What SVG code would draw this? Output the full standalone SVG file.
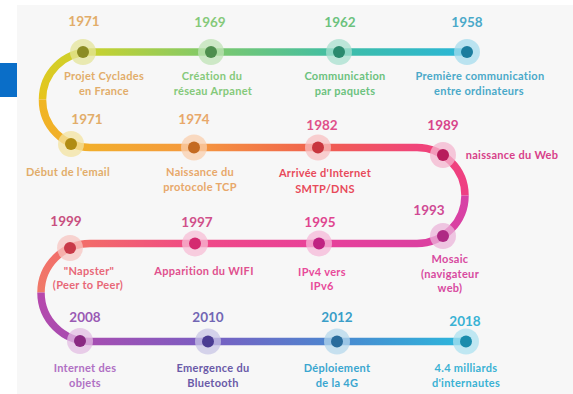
<svg xmlns="http://www.w3.org/2000/svg" width="573" height="394" viewBox="0 0 573 394">
<defs>
<linearGradient id="g1" gradientUnits="userSpaceOnUse" x1="467" y1="0" x2="90" y2="0">
<stop offset="0" stop-color="#2ab6d8"/><stop offset="0.34" stop-color="#3fbea6"/><stop offset="0.68" stop-color="#7ec96c"/><stop offset="1" stop-color="#c9d22e"/>
</linearGradient>
<linearGradient id="a1u" gradientUnits="userSpaceOnUse" x1="0" y1="52" x2="0" y2="99.5">
<stop offset="0" stop-color="#cfd02a"/><stop offset="1" stop-color="#e8c41c"/>
</linearGradient>
<linearGradient id="a1l" gradientUnits="userSpaceOnUse" x1="0" y1="99.5" x2="0" y2="147.5">
<stop offset="0" stop-color="#f0b622"/><stop offset="1" stop-color="#f2ae2c"/>
</linearGradient>
<linearGradient id="g2" gradientUnits="userSpaceOnUse" x1="90" y1="0" x2="417" y2="0">
<stop offset="0" stop-color="#f2ae2c"/><stop offset="0.32" stop-color="#f5983e"/><stop offset="0.7" stop-color="#f0604e"/><stop offset="1" stop-color="#f0447a"/>
</linearGradient>
<linearGradient id="a2u" gradientUnits="userSpaceOnUse" x1="0" y1="147.5" x2="0" y2="195.5">
<stop offset="0" stop-color="#f0447a"/><stop offset="1" stop-color="#ee3e84"/>
</linearGradient>
<linearGradient id="a2l" gradientUnits="userSpaceOnUse" x1="0" y1="195.5" x2="0" y2="243.5">
<stop offset="0" stop-color="#d642a6"/><stop offset="1" stop-color="#dc40a0"/>
</linearGradient>
<linearGradient id="g3" gradientUnits="userSpaceOnUse" x1="417" y1="0" x2="90" y2="0">
<stop offset="0" stop-color="#dc40a0"/><stop offset="0.3" stop-color="#e8409a"/><stop offset="0.68" stop-color="#f04a86"/><stop offset="1" stop-color="#f26a6a"/>
</linearGradient>
<linearGradient id="a3u" gradientUnits="userSpaceOnUse" x1="0" y1="243.5" x2="0" y2="292.5">
<stop offset="0" stop-color="#f26c6a"/><stop offset="1" stop-color="#f07a68"/>
</linearGradient>
<linearGradient id="a3l" gradientUnits="userSpaceOnUse" x1="0" y1="292.5" x2="0" y2="341.5">
<stop offset="0" stop-color="#b848ac"/><stop offset="1" stop-color="#a84cb0"/>
</linearGradient>
<linearGradient id="g4" gradientUnits="userSpaceOnUse" x1="90" y1="0" x2="466" y2="0">
<stop offset="0" stop-color="#a64eb2"/><stop offset="0.31" stop-color="#7a5ec2"/><stop offset="0.66" stop-color="#4a88d0"/><stop offset="1" stop-color="#2cb8dc"/>
</linearGradient>
<style>
.trk{fill:none;stroke-width:7.5}
.yr{font-family:Lato,"Open Sans",sans-serif;font-weight:700;font-size:13.5px;text-anchor:middle}
.lb{font-family:Lato,"Open Sans",sans-serif;font-weight:700;font-size:11px;letter-spacing:0.3px;text-anchor:middle}
.halo{opacity:0.75}
</style>
</defs>
<rect x="0" y="0" width="573" height="394" fill="#ffffff"/>
<rect x="17" y="5" width="556" height="389" fill="#f7f7f7"/>
<rect x="0" y="63" width="17" height="34" fill="#0a6ec8"/>

<g id="connectors">
<path class="trk" d="M467,52 H90" stroke="url(#g1)"/>
<path class="trk" d="M90,52 A47.5,47.5 0 0 0 42.5,99.5" stroke="url(#a1u)"/>
<path class="trk" d="M42.5,99.5 A47.5,47.5 0 0 0 90,147.5" stroke="url(#a1l)"/>
<path class="trk" d="M90,147.5 H417" stroke="url(#g2)"/>
<path class="trk" d="M417,147.5 A48,48 0 0 1 465,195.5" stroke="url(#a2u)"/>
<path class="trk" d="M465,195.5 A48,48 0 0 1 417,243.5" stroke="url(#a2l)"/>
<path class="trk" d="M417,243.5 H90" stroke="url(#g3)"/>
<path class="trk" d="M90,243.5 A49,49 0 0 0 41,292.5" stroke="url(#a3u)"/>
<path class="trk" d="M41,292.5 A49,49 0 0 0 90,341.5" stroke="url(#a3l)"/>
<path class="trk" d="M90,341.5 H466" stroke="url(#g4)"/>
</g>

<g id="n1971a">
<circle class="halo" cx="83" cy="52" r="13" fill="#e4e49a"/><circle cx="83" cy="52" r="6" fill="#8c8c24"/>
<text class="yr" x="84" y="26" fill="#e2ad6a">1971</text>
<text class="lb" x="104" y="80" fill="#e2ad6a">Projet Cyclades</text>
<text class="lb" x="104" y="95" fill="#e2ad6a">en France</text>
</g>
<g id="n1969">
<circle class="halo" cx="211" cy="52" r="13" fill="#bfe3b5"/><circle cx="211" cy="52" r="6" fill="#4e8e4e"/>
<text class="yr" x="210" y="27" fill="#85c97a">1969</text>
<text class="lb" x="212" y="80" fill="#85c97a">Création du</text>
<text class="lb" x="213" y="95" fill="#85c97a">réseau Arpanet</text>
</g>
<g id="n1962">
<circle class="halo" cx="339" cy="52" r="13" fill="#a8e0cf"/><circle cx="339" cy="52" r="6" fill="#2b8a6e"/>
<text class="yr" x="340" y="27" fill="#6cc27e">1962</text>
<text class="lb" x="345" y="80" fill="#6cc27e">Communication</text>
<text class="lb" x="345" y="95" fill="#6cc27e">par paquets</text>
</g>
<g id="n1958">
<circle class="halo" cx="467" cy="52" r="13" fill="#a5dcee"/><circle cx="467" cy="52" r="6" fill="#1b7d9e"/>
<text class="yr" x="467" y="27" fill="#4aa9c9">1958</text>
<text class="lb" x="480" y="80" fill="#4aa9c9">Première communication</text>
<text class="lb" x="479" y="95" fill="#4aa9c9">entre ordinateurs</text>
</g>

<g id="n1971b">
<circle class="halo" cx="71" cy="144" r="13" fill="#f3e3a0"/><circle cx="71" cy="144" r="6" fill="#b08c14"/>
<text class="yr" x="87" y="124" fill="#e2ad6a">1971</text>
<text class="lb" x="68" y="176" fill="#e2ad6a">Début de l'email</text>
</g>
<g id="n1974">
<circle class="halo" cx="194" cy="147.5" r="13" fill="#f9cfae"/><circle cx="194" cy="147.5" r="6" fill="#c46a22"/>
<text class="yr" x="194" y="124" fill="#e8a86a">1974</text>
<text class="lb" x="200" y="176" fill="#e8a86a">Naissance du</text>
<text class="lb" x="200" y="191" fill="#e8a86a">protocole TCP</text>
</g>
<g id="n1982">
<circle class="halo" cx="318" cy="147.5" r="13" fill="#f8c0c2"/><circle cx="318" cy="147.5" r="6" fill="#c8363e"/>
<text class="yr" x="322" y="130" fill="#e0508a">1982</text>
<text class="lb" x="325" y="177" fill="#e84a5a">Arrivée d'Internet</text>
<text class="lb" x="325" y="193" fill="#e84a5a">SMTP/DNS</text>
</g>
<g id="n1989">
<circle class="halo" cx="443" cy="155" r="13" fill="#f4b6cf"/><circle cx="443" cy="155" r="6" fill="#b81c5c"/>
<text class="yr" x="443" y="130" fill="#d8458a">1989</text>
<text class="lb" x="512" y="159" fill="#d8408a">naissance du Web</text>
</g>

<g id="n1993">
<circle class="halo" cx="443" cy="236" r="13" fill="#ebb4da"/><circle cx="443" cy="236" r="6" fill="#ae2a84"/>
<text class="yr" x="429" y="214.5" fill="#d04a94">1993</text>
<text class="lb" x="450" y="263" fill="#d84aa0">Mosaic</text>
<text class="lb" x="450" y="278" fill="#d84aa0">(navigateur</text>
<text class="lb" x="450" y="292" fill="#d84aa0">web)</text>
</g>
<g id="n1995">
<circle class="halo" cx="319" cy="243.5" r="13" fill="#f5b8d8"/><circle cx="319" cy="243.5" r="6" fill="#c02282"/>
<text class="yr" x="320" y="226.5" fill="#e0458f">1995</text>
<text class="lb" x="322" y="276" fill="#e84a9a">IPv4 vers</text>
<text class="lb" x="322" y="290" fill="#e84a9a">IPv6</text>
</g>
<g id="n1997">
<circle class="halo" cx="195" cy="243.5" r="13" fill="#f7bed6"/><circle cx="195" cy="243.5" r="6" fill="#d42a70"/>
<text class="yr" x="197" y="226.5" fill="#d0508a">1997</text>
<text class="lb" x="204" y="275" fill="#e0508e">Apparition du WIFI</text>
</g>
<g id="n1999">
<circle class="halo" cx="70" cy="248" r="13" fill="#f7c6c2"/><circle cx="70" cy="248" r="6" fill="#c83a48"/>
<text class="yr" x="66" y="226" fill="#c85080">1999</text>
<text class="lb" x="89" y="275" fill="#e86878">"Napster"</text>
<text class="lb" x="88" y="289" fill="#e86878">(Peer to Peer)</text>
</g>

<g id="n2008">
<circle class="halo" cx="80" cy="341" r="13" fill="#e3bde3"/><circle cx="80" cy="341" r="6" fill="#8a2a82"/>
<text class="yr" x="85" y="322" fill="#9a5ab4">2008</text>
<text class="lb" x="85" y="372" fill="#b070c4">Internet des</text>
<text class="lb" x="85" y="387" fill="#b070c4">objets</text>
</g>
<g id="n2010">
<circle class="halo" cx="208" cy="341.5" r="13" fill="#c8c6e6"/><circle cx="208" cy="341.5" r="6" fill="#4a3c92"/>
<text class="yr" x="208" y="322" fill="#7266b4">2010</text>
<text class="lb" x="213" y="372" fill="#6a5aa8">Emergence du</text>
<text class="lb" x="213" y="387" fill="#6a5aa8">Bluetooth</text>
</g>
<g id="n2012">
<circle class="halo" cx="337" cy="341.5" r="13" fill="#b5d8ec"/><circle cx="337" cy="341.5" r="6" fill="#2a6c9c"/>
<text class="yr" x="337" y="322" fill="#3a9ec8">2012</text>
<text class="lb" x="337" y="372" fill="#3aa6d0">Déploiement</text>
<text class="lb" x="337" y="387" fill="#3aa6d0">de la 4G</text>
</g>
<g id="n2018">
<circle class="halo" cx="466" cy="341.5" r="13" fill="#ace2f0"/><circle cx="466" cy="341.5" r="6" fill="#1a8cac"/>
<text class="yr" x="465" y="326" fill="#3ab2d4">2018</text>
<text class="lb" x="466" y="372" fill="#3ab2d4">4.4 milliards</text>
<text class="lb" x="466" y="387" fill="#3ab2d4">d'internautes</text>
</g>
</svg>
